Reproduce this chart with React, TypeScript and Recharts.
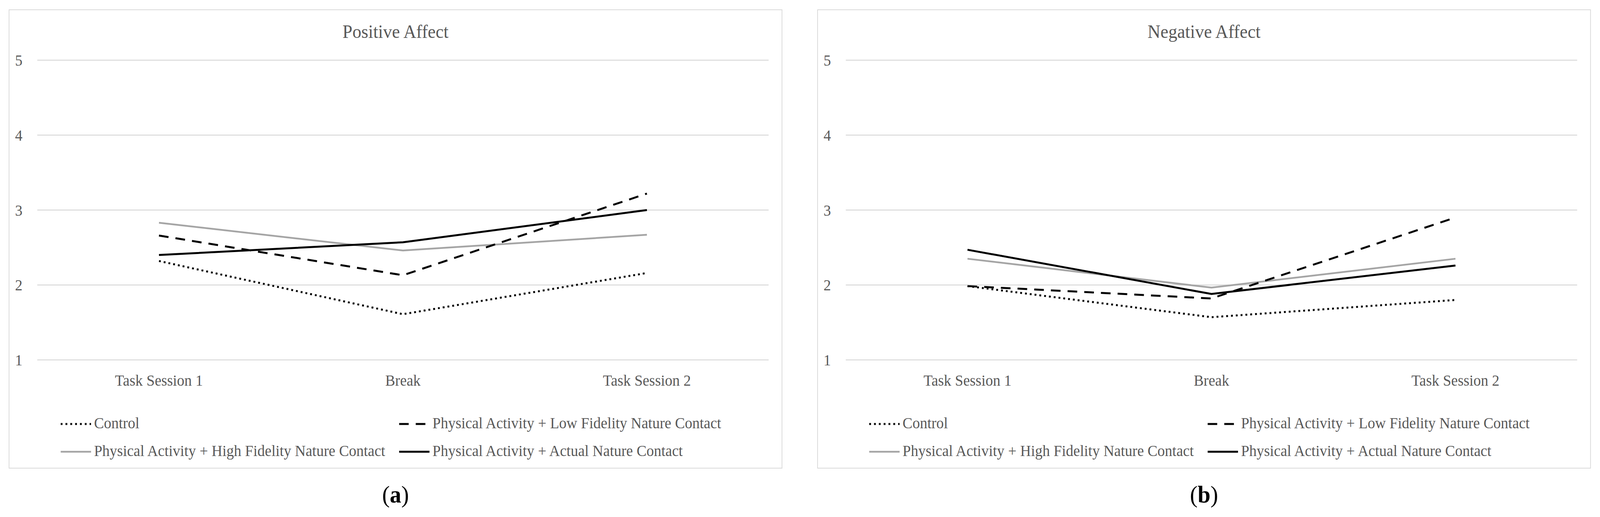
import { LineChart, Line, XAxis, YAxis, CartesianGrid } from "recharts";

const FONT = "'Liberation Serif', 'Times New Roman', serif";
const TEXT = "#595959";
const GRID = "#d9d9d9";

const phases = ["Task Session 1", "Break", "Task Session 2"];
const yTicks = [1, 2, 3, 4, 5];

const groupKeys = ["control", "lowFidelity", "highFidelity", "actual"];
const groupNames = [
  "Control",
  "Physical Activity + Low Fidelity Nature Contact",
  "Physical Activity + High Fidelity Nature Contact",
  "Physical Activity + Actual Nature Contact",
];

// Positive Affect (a)
const positiveControl = [2.32, 1.61, 2.16];
const positiveLowFidelity = [2.66, 2.13, 3.22];
const positiveHighFidelity = [2.83, 2.46, 2.67];
const positiveActual = [2.4, 2.57, 3.0];

// Negative Affect (b)
const negativeControl = [1.985, 1.57, 1.8];
const negativeLowFidelity = [1.985, 1.82, 2.9];
const negativeHighFidelity = [2.35, 1.965, 2.35];
const negativeActual = [2.47, 1.88, 2.26];

// line look per group
const lineStyles: Record<string, { stroke: string; width: number; dash?: string }> = {
  control: { stroke: "#000", width: 5, dash: "5 8" },
  lowFidelity: { stroke: "#000", width: 5, dash: "26 19" },
  highFidelity: { stroke: "#a5a5a5", width: 4.5 },
  actual: { stroke: "#000", width: 5 },
};
// draw order, grey underneath
const drawOrder = ["highFidelity", "control", "lowFidelity", "actual"];

const PAGE_W = 4312;
const PAGE_H = 1323;
const ROOT_W = 4296;
const ROOT_H = 1295;
const PANEL_W = 2085;
const PANEL_H = 1175;
const CHART_W = PANEL_W - 4;
const CHART_H = PANEL_H - 4;

function buildRows(series: number[][]) {
  return phases.map((phase, i) => {
    const row: Record<string, string | number> = { phase };
    groupKeys.forEach((k, j) => {
      row[k] = series[j][i];
    });
    return row;
  });
}

function LegendItem({ k, name }: { k: string; name: string }) {
  const s = lineStyles[k];
  return (
    <div style={{ display: "flex", alignItems: "center", height: 40 }}>
      <svg width={90} height={40} style={{ flex: "none" }}>
        <line
          x1={0}
          x2={82}
          y1={22}
          y2={22}
          stroke={s.stroke}
          strokeWidth={s.width}
          strokeDasharray={s.dash}
        />
      </svg>
      <span style={{ whiteSpace: "nowrap" }}>{name}</span>
    </div>
  );
}

function Panel({
  left,
  title,
  series,
  letter,
}: {
  left: number;
  title: string;
  series: number[][];
  letter: string;
}) {
  const rows = buildRows(series);
  const tickStyle = { fill: TEXT, fontSize: 40, fontFamily: FONT };
  return (
    <>
      <div
        style={{
          position: "absolute",
          left,
          top: 16,
          width: PANEL_W,
          height: PANEL_H,
          border: `2px solid ${GRID}`,
          boxSizing: "border-box",
          background: "#fff",
          fontFamily: FONT,
          color: TEXT,
        }}
      >
        <LineChart
          width={CHART_W}
          height={CHART_H}
          data={rows}
          margin={{ top: 128, right: 35, bottom: 246, left: 0 }}
        >
          <CartesianGrid vertical={false} stroke={GRID} strokeWidth={2.5} />
          <XAxis
            dataKey="phase"
            axisLine={false}
            tickLine={false}
            tickSize={0}
            tickMargin={38}
            padding={{ left: 328, right: 328 }}
            tick={tickStyle}
            interval={0}
          />
          <YAxis
            domain={[1, 5]}
            ticks={yTicks}
            width={75}
            axisLine={false}
            tickLine={false}
            tickSize={0}
            tickMargin={40}
            tick={tickStyle}
          />
          {drawOrder.map((k) => (
            <Line
              key={k}
              type="linear"
              dataKey={k}
              stroke={lineStyles[k].stroke}
              strokeWidth={lineStyles[k].width}
              strokeDasharray={lineStyles[k].dash}
              strokeLinecap="butt"
              dot={false}
              activeDot={false}
              isAnimationActive={false}
            />
          ))}
        </LineChart>
        <div
          style={{
            position: "absolute",
            left: 0,
            top: 31,
            width: "100%",
            textAlign: "center",
            fontSize: 48,
            lineHeight: "48px",
          }}
        >
          {title}
        </div>
        <div
          style={{
            position: "absolute",
            left: 138,
            top: 1037,
            display: "grid",
            gridTemplateColumns: "912px auto",
            rowGap: 31,
            fontSize: 40,
            lineHeight: "40px",
          }}
        >
          {groupKeys.map((k, i) => (
            <LegendItem key={k} k={k} name={groupNames[i]} />
          ))}
        </div>
      </div>
      <div
        style={{
          position: "absolute",
          left,
          top: 1226,
          width: PANEL_W,
          textAlign: "center",
          fontFamily: FONT,
          fontSize: 62,
          lineHeight: "62px",
          color: "#000",
        }}
      >
        (<b>{letter}</b>)
      </div>
    </>
  );
}

export default function App() {
  // fit the 4312x1323 layout to the real viewport in case it is smaller
  const vw = typeof window !== "undefined" ? window.innerWidth : PAGE_W;
  const vh = typeof window !== "undefined" ? window.innerHeight : PAGE_H;
  const sx = Math.min(1, vw / PAGE_W);
  const sy = vh > 200 ? Math.min(1, vh / PAGE_H) : sx;
  return (
    <div style={{ width: ROOT_W * sx, height: ROOT_H * sy, overflow: "hidden" }}>
      <div
        style={{
          position: "relative",
          width: ROOT_W,
          height: ROOT_H,
          background: "#fff",
          transform: `scale(${sx}, ${sy})`,
          transformOrigin: "0 0",
        }}
      >
        <Panel
          left={15}
          title="Positive Affect"
          letter="a"
          series={[positiveControl, positiveLowFidelity, positiveHighFidelity, positiveActual]}
        />
        <Panel
          left={2194}
          title="Negative Affect"
          letter="b"
          series={[negativeControl, negativeLowFidelity, negativeHighFidelity, negativeActual]}
        />
      </div>
    </div>
  );
}
